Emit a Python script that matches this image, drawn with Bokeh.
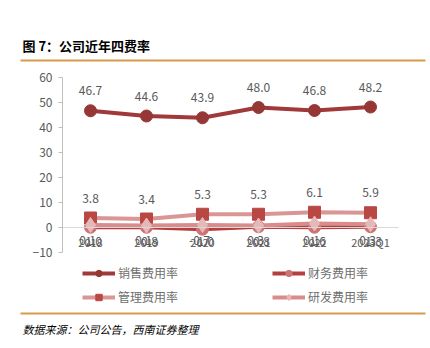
from bokeh.plotting import figure
from bokeh.models import (ColumnDataSource, Legend, LegendItem, Label, BoxAnnotation,
                          FixedTicker, Range1d)
from bokeh.core.properties import value
from bokeh.embed import file_html
from bokeh.resources import INLINE

categories = ["2018", "2019", "2020", "2021", "2022", "2023Q1"]
sales_rate = [46.7, 44.6, 43.9, 48.0, 46.8, 48.2]
finance_rate = [0.1, 0.1, -0.7, 0.3, 0.1, 0.3]
admin_rate = [3.8, 3.4, 5.3, 5.3, 6.1, 5.9]
rd_rate = [1.0, 0.8, 1.0, 0.8, 1.6, 1.3]
y_ticks = [-10, 0, 10, 20, 30, 40, 50, 60]

CJK = "Noto Sans CJK SC"
GREY = "#595959"
ORANGE = "#D89B4C"
W, H = 430, 348

xs = list(range(len(categories)))
src = ColumnDataSource(dict(
    x=xs, sales=sales_rate, fin=finance_rate, adm=admin_rate, rd=rd_rate,
    sales_t=[f"{v:.1f}" for v in sales_rate],
    fin_t=[f"{v:.1f}" for v in finance_rate],
    adm_t=[f"{v:.1f}" for v in admin_rate],
    rd_t=[f"{v:.1f}" for v in rd_rate],
    zero=[0] * len(categories),
))

# plot area: categories 56 px apart, value axis 2.5 px per unit
PX_X, PX_Y = 56.0, 2.5
left_edge, top_px, bottom_px = 62, 77, 252
x0 = -0.5 - left_edge / PX_X
x1 = x0 + W / PX_X
y1 = y_ticks[-1] + top_px / PX_Y
y0 = y1 - H / PX_Y

p = figure(width=W, height=H, output_backend="svg", toolbar_location=None,
           x_range=Range1d(x0, x1), y_range=Range1d(y0, y1), min_border=0)
p.outline_line_color = None
p.grid.visible = False
p.background_fill_color = "white"
p.border_fill_color = "white"

# y axis
p.yaxis.fixed_location = -0.5
p.yaxis.bounds = (y_ticks[0], y_ticks[-1])
p.yaxis.ticker = FixedTicker(ticks=y_ticks)
p.yaxis.axis_line_color = "#BFBFBF"
p.yaxis.major_tick_line_color = "#BFBFBF"
p.yaxis.major_tick_out = 4
p.yaxis.major_tick_in = 0
p.yaxis.minor_tick_line_color = None
p.yaxis.major_label_text_font = CJK
p.yaxis.major_label_text_font_size = "12px"
p.yaxis.major_label_text_color = GREY
p.yaxis.major_label_standoff = 6

# x axis at y = 0
p.xaxis.fixed_location = 0
p.xaxis.bounds = (-0.5, len(categories) - 0.5)
p.xaxis.ticker = FixedTicker(ticks=xs)
p.xaxis.major_label_overrides = {i: c for i, c in zip(xs, categories)}
p.xaxis.axis_line_color = "#D9D9D9"
p.xaxis.major_tick_line_color = None
p.xaxis.minor_tick_line_color = None
p.xaxis.major_label_text_font = CJK
p.xaxis.major_label_text_font_size = "11px"
p.xaxis.major_label_text_color = GREY
p.xaxis.major_label_standoff = 0

# series
r_sales_l = p.line("x", "sales", source=src, line_color="#A0393A", line_width=4)
r_sales_m = p.scatter("x", "sales", source=src, marker="circle", size=12,
                      fill_color="#953735", line_color="#953735")
r_fin_l = p.line("x", "fin", source=src, line_color="#B33F3F", line_width=4)
r_fin_m = p.scatter("x", "fin", source=src, marker="circle", size=12,
                    fill_color="#CD7372", line_color="#CD7372")
r_adm_l = p.line("x", "adm", source=src, line_color="#D99694", line_width=4)
r_adm_m = p.scatter("x", "adm", source=src, marker="square", size=12,
                    fill_color="#B94744", line_color="#B94744")
r_rd_l = p.line("x", "rd", source=src, line_color="#D98C8B", line_width=4)
r_rd_m = p.scatter("x", "rd", source=src, marker="diamond", size=15,
                   fill_color="#E6B9B8", line_color="#E6B9B8")

lab_kw = dict(source=src, text_font=value(CJK), text_font_size="12px",
              text_color=GREY, text_align="center", text_baseline="middle")
p.text("x", "sales", text="sales_t", y_offset=-20, **lab_kw)
p.text("x", "adm", text="adm_t", y_offset=-20, **lab_kw)
p.text("x", "zero", text="fin_t", y_offset=13, x_offset=-3, **lab_kw)
p.text("x", "zero", text="rd_t", y_offset=14, x_offset=3, **lab_kw)

legend = Legend(items=[
    LegendItem(label="销售费用率", renderers=[r_sales_l, r_sales_m]),
    LegendItem(label="管理费用率", renderers=[r_adm_l, r_adm_m]),
    LegendItem(label="财务费用率", renderers=[r_fin_l, r_fin_m]),
    LegendItem(label="研发费用率", renderers=[r_rd_l, r_rd_m]),
], ncols=2, glyph_width=33, glyph_height=16, spacing=7,
    label_standoff=3, label_width=147, label_text_font=CJK, label_text_font_size="12px",
    label_text_color="#6E6E6E", background_fill_alpha=0, border_line_color=None,
    padding=0, margin=0, location=(82, H - 305))
p.add_layout(legend, "center")

# title, rules and source note (screen units from the bottom-left corner)
p.add_layout(Label(x=22, y=H - 45, x_units="screen", y_units="screen",
                   text="图 7：公司近年四费率",
                   text_font=CJK, text_font_size="13px", text_font_style="bold",
                   text_color="#000000", text_baseline="middle"))
for ty in (60, 313):
    p.add_layout(BoxAnnotation(left=20, right=425, top=H - ty + 1, bottom=H - ty - 1,
                               left_units="screen", right_units="screen",
                               top_units="screen", bottom_units="screen",
                               fill_color=ORANGE, fill_alpha=1, line_color=None))
p.add_layout(Label(x=22, y=H - 328, x_units="screen", y_units="screen",
                   text="数据来源：公司公告，西南证券整理",
                   text_font=CJK, text_font_size="11px", text_font_style="italic",
                   text_color="#000000", text_baseline="middle"))

open("out.html", "w").write(file_html(p, INLINE))
